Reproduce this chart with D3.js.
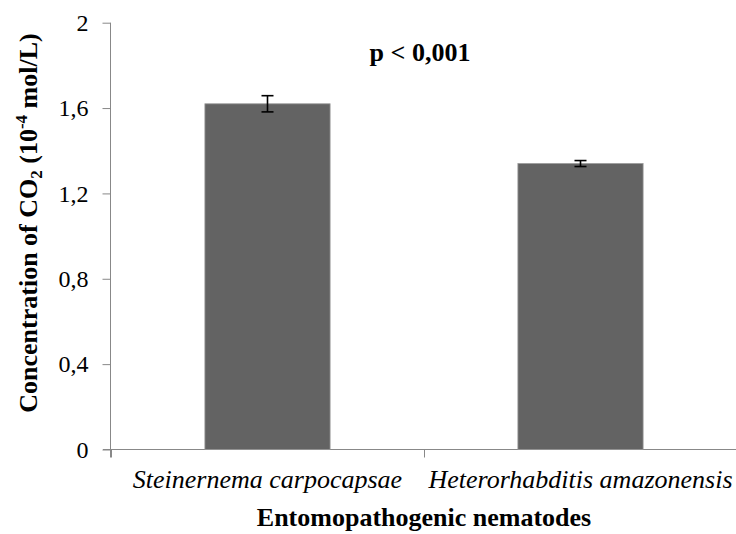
<!DOCTYPE html>
<html>
<head>
<meta charset="utf-8">
<script src="https://cdn.jsdelivr.net/npm/d3@7"></script>
</head>
<body style="margin:0;background:#fff">
<script>
const width = 736;
const height = 534;
const serif = "'Liberation Serif'";

// data
const species = ['Steinernema carpocapsae', 'Heterorhabditis amazonensis'];
const co2 = [1.62, 1.34];
const co2Err = [0.038, 0.014];
const yTicks = [0, 0.4, 0.8, 1.2, 1.6, 2];

const svg = d3.select('body').append('svg')
  .attr('width', width)
  .attr('height', height)
  .attr('font-family', serif);

const y = d3.scaleLinear().domain([0, 2]).range([449.5, 22.7]);
const x = d3.scaleBand().domain(species).range([111, 737])
  .paddingInner(0.6).paddingOuter(0.3);

const axisColor = '#888';

// y axis
const yAxis = svg.append('g').attr('transform', 'translate(110.5,0)')
  .call(d3.axisLeft(y).tickValues(yTicks).tickSize(8).tickPadding(14)
    .tickFormat(d => String(d).replace('.', ',')));
yAxis.attr('font-family', serif).attr('font-size', 24);
yAxis.select('.domain').attr('stroke', axisColor).attr('d', `M0,${y(2)}V${y(0) + 8}`);
yAxis.selectAll('.tick line').attr('stroke', axisColor);
yAxis.selectAll('.tick text')
  .attr('fill', '#000')
  .attr('font-family', serif)
  .attr('font-size', 24);

// x axis
const xAxis = svg.append('g').attr('transform', `translate(0,${y(0)})`);
xAxis.append('line')
  .attr('x1', 103).attr('x2', 737)
  .attr('stroke', axisColor);
const bounds = [111, x.step() + 111, 737];
xAxis.selectAll('.xt').data(bounds).enter().append('line')
  .attr('x1', d => Math.round(d) + 0.5).attr('x2', d => Math.round(d) + 0.5)
  .attr('y1', 0).attr('y2', 8)
  .attr('stroke', axisColor);
xAxis.selectAll('.xl').data(species).enter().append('text')
  .attr('x', d => x(d) + x.bandwidth() / 2)
  .attr('y', 38.5)
  .attr('text-anchor', 'middle')
  .attr('font-family', serif)
  .attr('font-size', 26)
  .attr('font-style', 'italic')
  .text(d => d);

// bars
svg.append('g').selectAll('rect')
  .data(species).enter().append('rect')
  .attr('x', d => x(d))
  .attr('y', (d, i) => y(co2[i]))
  .attr('width', x.bandwidth())
  .attr('height', (d, i) => y(0) - y(co2[i]))
  .attr('fill', '#636363')
  .attr('stroke', '#9a9a9a')
  .attr('stroke-width', 0.8);

// error bars
const eb = svg.append('g').attr('stroke', '#000').attr('stroke-width', 1.6);
species.forEach((s, i) => {
  const cx = x(s) + x.bandwidth() / 2;
  eb.append('line').attr('x1', cx).attr('x2', cx)
    .attr('y1', y(co2[i] + co2Err[i])).attr('y2', y(co2[i] - co2Err[i]));
  [co2[i] + co2Err[i], co2[i] - co2Err[i]].forEach(v => {
    eb.append('line').attr('x1', cx - 6).attr('x2', cx + 6)
      .attr('y1', y(v)).attr('y2', y(v));
  });
});

// p value
svg.append('text')
  .attr('x', 420).attr('y', 61)
  .attr('text-anchor', 'middle')
  .attr('font-family', serif)
  .attr('font-size', 26)
  .attr('font-weight', 'bold')
  .text('p < 0,001');

// axis titles
svg.append('text')
  .attr('x', 424).attr('y', 526)
  .attr('text-anchor', 'middle')
  .attr('font-family', serif)
  .attr('font-size', 26)
  .attr('font-weight', 'bold')
  .text('Entomopathogenic nematodes');

const yt = svg.append('text')
  .attr('transform', 'translate(37,223) rotate(-90)')
  .attr('text-anchor', 'middle')
  .attr('font-family', serif)
  .attr('font-size', 26)
  .attr('font-weight', 'bold');
yt.append('tspan').text('Concentration of CO');
yt.append('tspan').attr('dy', 5).attr('font-size', 17).text('2');
yt.append('tspan').attr('dy', -5).text(' (10');
yt.append('tspan').attr('dy', -10).attr('font-size', 17).text('-4');
yt.append('tspan').attr('dy', 10).text(' mol/L)');
</script>
</body>
</html>
